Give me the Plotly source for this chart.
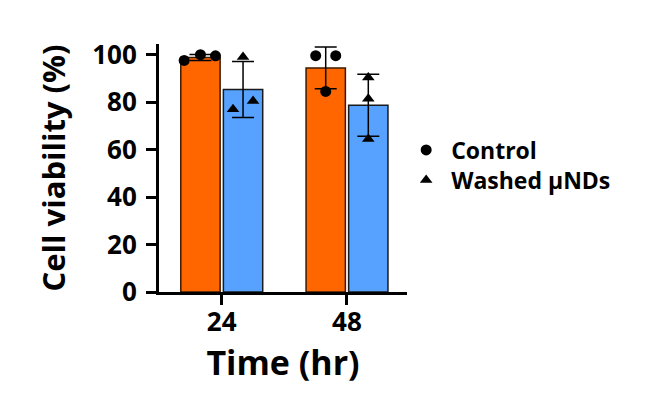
import plotly.graph_objects as go

# ---------------- data ----------------
time_labels = ["24", "48"]
control_mean = [98.8, 94.4]
control_sd = [1.3, 8.8]
washed_mean = [85.3, 78.7]
washed_sd = [11.8, 13.1]
control_points = [[97.6, 100.0, 99.5], [99.6, 99.6, 84.5]]
washed_points = [[99.0, 77.0, 80.5], [90.4, 81.4, 64.5]]

# ---------------- style ----------------
FONT = "Open Sans"
ORANGE = "#FF6600"
BLUE = "#57A2FF"
BAR_W = 0.314
CTRL_OFF = -0.326
WASH_OFF = 0.014
ctrl_jitter = [[-0.13, 0.0, 0.12], [-0.08, 0.08, 0.0]]
wash_jitter = [[0.0, -0.08, 0.08], [0.0, 0.0, 0.0]]

xi = list(range(len(time_labels)))
fig = go.Figure()

fig.add_trace(go.Bar(
    x=xi, y=control_mean, width=BAR_W, offset=CTRL_OFF,
    marker=dict(color=ORANGE, line=dict(color="#3a1a00", width=1.5)),
    error_y=dict(type="data", array=control_sd, color="black", thickness=1.5, width=11),
    showlegend=False, hoverinfo="skip"))
fig.add_trace(go.Bar(
    x=xi, y=washed_mean, width=BAR_W, offset=WASH_OFF,
    marker=dict(color=BLUE, line=dict(color="#1a1a1a", width=1.5)),
    error_y=dict(type="data", array=washed_sd, color="black", thickness=1.5, width=11),
    showlegend=False, hoverinfo="skip"))

cx, cy, wx, wy = [], [], [], []
for i in xi:
    cc = i + CTRL_OFF + BAR_W / 2
    wc = i + WASH_OFF + BAR_W / 2
    for v, j in zip(control_points[i], ctrl_jitter[i]):
        cx.append(cc + j); cy.append(v)
    for v, j in zip(washed_points[i], wash_jitter[i]):
        wx.append(wc + j); wy.append(v)

fig.add_trace(go.Scatter(x=cx, y=cy, mode="markers", name="Control",
                         marker=dict(symbol="circle", size=11, color="black"),
                         legend="legend", hoverinfo="skip"))
fig.add_trace(go.Scatter(x=wx, y=wy, mode="markers", name="Washed \u00b5NDs",
                         marker=dict(symbol="triangle-up", size=11, color="black"),
                         legend="legend2", hoverinfo="skip"))

axis_font = dict(family=FONT, size=26, color="black", weight="bold")
leg_font = dict(family=FONT, size=23, color="black", weight="bold")
fig.update_layout(
    template="none",
    width=646, height=393,
    margin=dict(l=159, r=239, t=44, b=101, autoexpand=False),
    plot_bgcolor="white", paper_bgcolor="white",
    barmode="overlay",
    font=dict(family=FONT, color="black"),
    xaxis=dict(range=[-0.5, 1.48], tickvals=xi, ticktext=time_labels,
               ticks="outside", ticklen=10, tickwidth=3, tickcolor="black",
               showline=True, linewidth=3, linecolor="black", showgrid=False,
               zeroline=False, tickfont=axis_font, automargin=False,
               ticklabelstandoff=-5,
               title=dict(text="Time (hr)", standoff=3,
                          font=dict(family=FONT, size=34, color="black", weight="bold"))),
    yaxis=dict(range=[0, 104.5], tickvals=[0, 20, 40, 60, 80, 100],
               ticks="outside", ticklen=10, tickwidth=3, tickcolor="black",
               showline=True, linewidth=3, linecolor="black", showgrid=False,
               zeroline=False, tickfont=axis_font, automargin=False,
               ticklabelstandoff=4,
               title=dict(text="Cell viability (%)", standoff=18,
                          font=dict(family=FONT, size=31, color="black", weight="bold"))),
    legend=dict(x=0.621, y=0.6183, xref="container", yref="container",
                xanchor="left", yanchor="middle", itemwidth=40,
                bgcolor="rgba(0,0,0,0)", font=leg_font),
    legend2=dict(x=0.621, y=0.542, xref="container", yref="container",
                 xanchor="left", yanchor="middle", itemwidth=40,
                 bgcolor="rgba(0,0,0,0)", font=leg_font),
)

fig.write_html("out.html", config={"displayModeBar": False},
               post_script="document.body.style.margin='0';document.body.style.overflow='hidden';")
